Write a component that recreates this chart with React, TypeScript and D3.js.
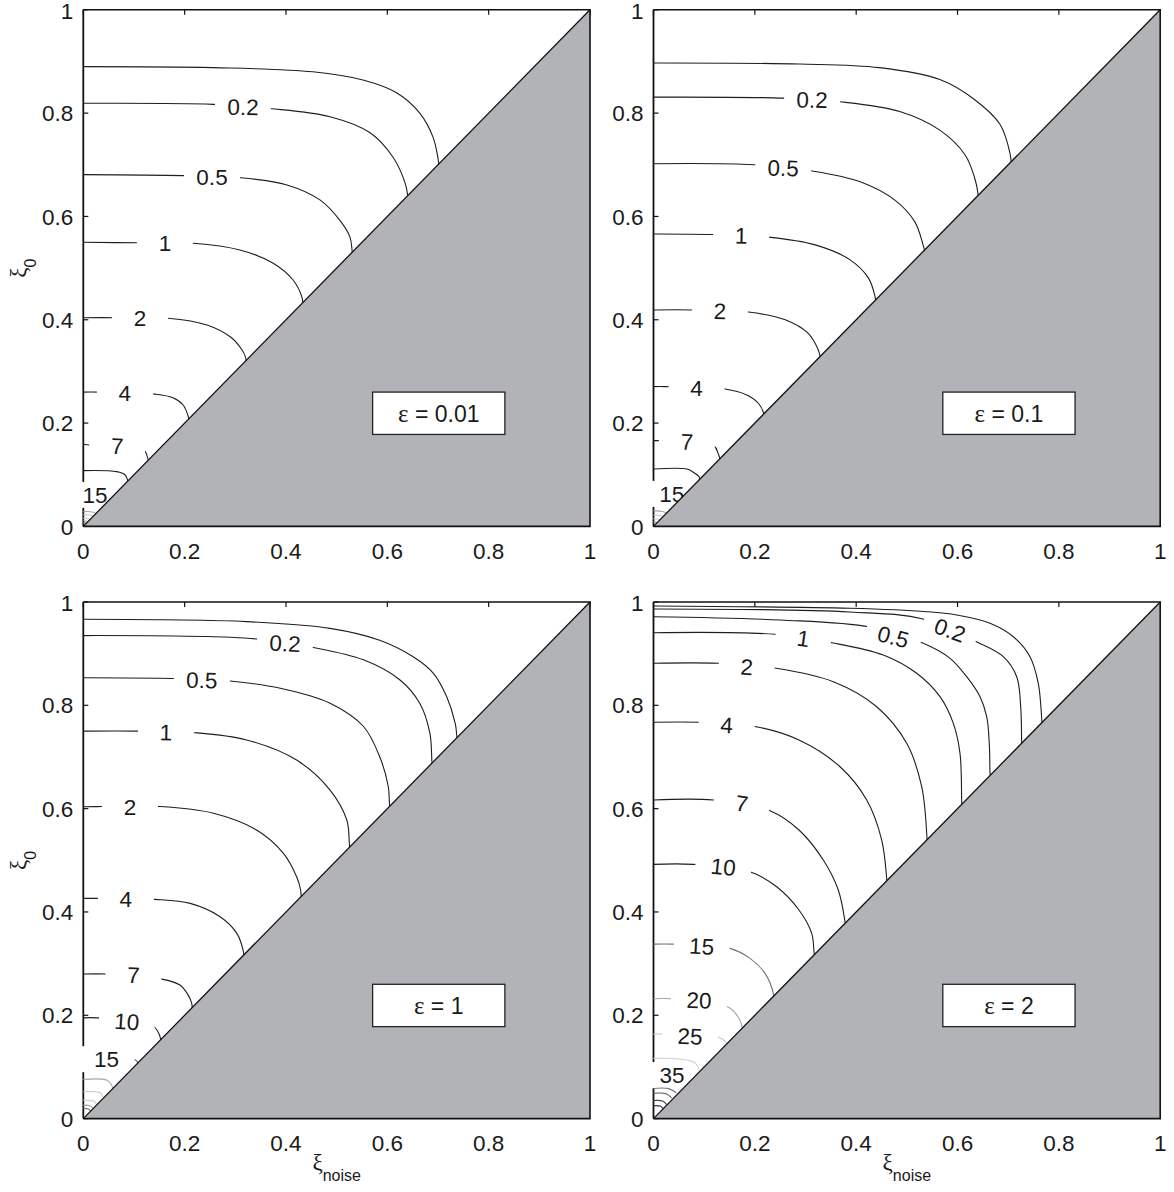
import { useEffect, useRef } from 'react';
import * as d3 from 'd3';

// tick values and their labels (both axes)
const ticks = [0, 0.2, 0.4, 0.6, 0.8, 1];
const tickText = ['0', '0.2', '0.4', '0.6', '0.8', '1'];
const epsilons = ['0.01', '0.1', '1', '2'];

// panel A : eps = 0.01  (contour points [xi_noise, xi_0])
const levelsA = [0.1, 0.2, 0.5, 1, 2, 4, 7, 10, 15, 20, 25, 30, 35, 40];
const linesA = [
  [[0, 0.890], [0.256, 0.888], [0.453, 0.880], [0.552, 0.864], [0.619, 0.839], [0.664, 0.800], [0.690, 0.754], [0.700, 0.713], [0.703, 0.69]],
  [[0, 0.819], [0.256, 0.817], [0.368, 0.809], [0.487, 0.793], [0.566, 0.762], [0.611, 0.715], [0.635, 0.665], [0.640, 0.642], [0.641, 0.63]],
  [[0, 0.681], [0.197, 0.679], [0.309, 0.675], [0.402, 0.661], [0.467, 0.632], [0.506, 0.593], [0.526, 0.561], [0.530, 0.539], [0.531, 0.525]],
  [[0, 0.550], [0.108, 0.549], [0.217, 0.548], [0.309, 0.535], [0.374, 0.510], [0.414, 0.477], [0.432, 0.442], [0.433, 0.43]],
  [[0, 0.404], [0.059, 0.404], [0.167, 0.403], [0.244, 0.390], [0.290, 0.367], [0.313, 0.342], [0.320, 0.328], [0.322, 0.31]],
  [[0, 0.260], [0.029, 0.260], [0.142, 0.256], [0.177, 0.249], [0.197, 0.235], [0.207, 0.213], [0.209, 0.20]],
  [[0, 0.159], [0.007, 0.158], [0.120, 0.147], [0.126, 0.136], [0.128, 0.129], [0.129, 0.12]],
  [[0, 0.108], [0.066, 0.106], [0.082, 0.100], [0.087, 0.091], [0.088, 0.08]],
  [[0, 0.062], [0.05, 0.061], [0.062, 0.055]],
  [[0, 0.0286], [0.018, 0.028], [0.026, 0.024]],
  [[0, 0.0223], [0.013, 0.022], [0.019, 0.019]],
  [[0, 0.016], [0.01, 0.015], [0.014, 0.013]],
  [[0, 0.011], [0.006, 0.010], [0.009, 0.009]],
  [[0, 0.007], [0.004, 0.0065], [0.006, 0.006]],
];
const labelsA = [
  { lv: 0.2, t: '0.2', x: 0.315, y: 0.812, r: 1 },
  { lv: 0.5, t: '0.5', x: 0.254, y: 0.677, r: 0 },
  { lv: 1, t: '1', x: 0.161, y: 0.548, r: 0 },
  { lv: 2, t: '2', x: 0.112, y: 0.403, r: 0 },
  { lv: 4, t: '4', x: 0.082, y: 0.258, r: 0 },
  { lv: 7, t: '7', x: 0.067, y: 0.156, r: 2 },
  { lv: 15, t: '15', x: 0.023, y: 0.061, r: 0 },
];

// panel B : eps = 0.1
const levelsB = [0.1, 0.2, 0.5, 1, 2, 4, 7, 10, 15, 20, 25, 30, 35];
const linesB = [
  [[0, 0.897], [0.288, 0.895], [0.446, 0.888], [0.565, 0.865], [0.634, 0.826], [0.684, 0.778], [0.704, 0.720], [0.706, 0.70]],
  [[0, 0.831], [0.257, 0.829], [0.368, 0.822], [0.486, 0.803], [0.565, 0.767], [0.615, 0.719], [0.634, 0.674], [0.640, 0.647], [0.641, 0.63]],
  [[0, 0.702], [0.199, 0.700], [0.313, 0.688], [0.408, 0.667], [0.477, 0.631], [0.516, 0.589], [0.532, 0.545], [0.537, 0.525]],
  [[0, 0.566], [0.117, 0.565], [0.226, 0.560], [0.319, 0.545], [0.388, 0.516], [0.424, 0.481], [0.437, 0.446], [0.439, 0.43]],
  [[0, 0.419], [0.076, 0.419], [0.187, 0.415], [0.260, 0.400], [0.305, 0.374], [0.325, 0.342], [0.329, 0.328], [0.331, 0.315]],
  [[0, 0.2706], [0.023, 0.2706], [0.141, 0.266], [0.184, 0.2545], [0.207, 0.2384], [0.217, 0.2202], [0.218, 0.21]],
  [[0, 0.166], [0.005, 0.166], [0.119, 0.156], [0.128, 0.140], [0.132, 0.128]],
  [[0, 0.111], [0.066, 0.111], [0.080, 0.104], [0.090, 0.096], [0.092, 0.085]],
  [[0, 0.063], [0.05, 0.062], [0.062, 0.056]],
  [[0, 0.030], [0.018, 0.029], [0.027, 0.025]],
  [[0, 0.022], [0.013, 0.021], [0.02, 0.018]],
  [[0, 0.015], [0.009, 0.014], [0.013, 0.012]],
  [[0, 0.009], [0.005, 0.008], [0.008, 0.007]],
];
const labelsB = [
  { lv: 0.2, t: '0.2', x: 0.313, y: 0.826, r: 1 },
  { lv: 0.5, t: '0.5', x: 0.256, y: 0.694, r: 2 },
  { lv: 1, t: '1', x: 0.173, y: 0.563, r: 1 },
  { lv: 2, t: '2', x: 0.131, y: 0.417, r: 1 },
  { lv: 4, t: '4', x: 0.085, y: 0.268, r: 0 },
  { lv: 7, t: '7', x: 0.066, y: 0.164, r: 2 },
  { lv: 15, t: '15', x: 0.036, y: 0.063, r: 0 },
];

// panel C : eps = 1
const levelsC = [0.1, 0.2, 0.5, 1, 2, 4, 7, 10, 15, 20, 25, 30, 35, 40];
const linesC = [
  [[0, 0.9665], [0.322, 0.962], [0.487, 0.949], [0.585, 0.926], [0.651, 0.894], [0.691, 0.862], [0.717, 0.817], [0.734, 0.765], [0.737, 0.7425], [0.738, 0.73]],
  [[0, 0.935], [0.342, 0.9285], [0.454, 0.912], [0.553, 0.888], [0.625, 0.849], [0.664, 0.804], [0.684, 0.746], [0.688, 0.691], [0.689, 0.68]],
  [[0, 0.8535], [0.178, 0.852], [0.290, 0.847], [0.389, 0.833], [0.487, 0.804], [0.553, 0.759], [0.585, 0.7005], [0.602, 0.6424], [0.604, 0.6134], [0.605, 0.6]],
  [[0, 0.750], [0.109, 0.750], [0.220, 0.747], [0.322, 0.733], [0.421, 0.694], [0.487, 0.636], [0.520, 0.578], [0.525, 0.533], [0.526, 0.52]],
  [[0, 0.6037], [0.036, 0.604], [0.151, 0.604], [0.257, 0.591], [0.342, 0.5586], [0.395, 0.5134], [0.421, 0.468], [0.429, 0.442], [0.43, 0.42]],
  [[0, 0.4263], [0.026, 0.4263], [0.141, 0.4244], [0.211, 0.4166], [0.270, 0.3907], [0.303, 0.3586], [0.316, 0.323], [0.317, 0.31]],
  [[0, 0.2798], [0.046, 0.2798], [0.1575, 0.2695], [0.1907, 0.2585], [0.207, 0.239], [0.214, 0.223], [0.215, 0.21]],
  [[0, 0.195], [0.028, 0.195], [0.138, 0.179], [0.151, 0.16], [0.153, 0.15]],
  [[0, 0.117], [0.09, 0.116], [0.105, 0.112], [0.11, 0.1]],
  [[0, 0.0759], [0.046, 0.0745], [0.056, 0.0649], [0.058, 0.055]],
  [[0, 0.052], [0.033, 0.050], [0.039, 0.042]],
  [[0, 0.0358], [0.023, 0.0326], [0.026, 0.026]],
  [[0, 0.026], [0.015, 0.024], [0.019, 0.019]],
  [[0, 0.0197], [0.011, 0.018], [0.014, 0.014]],
];
const labelsC = [
  { lv: 0.2, t: '0.2', x: 0.398, y: 0.920, r: 3 },
  { lv: 0.5, t: '0.5', x: 0.234, y: 0.849, r: 1 },
  { lv: 1, t: '1', x: 0.163, y: 0.748, r: 1 },
  { lv: 2, t: '2', x: 0.092, y: 0.6035, r: 0 },
  { lv: 4, t: '4', x: 0.084, y: 0.425, r: 0 },
  { lv: 7, t: '7', x: 0.099, y: 0.278, r: 2 },
  { lv: 10, t: '10', x: 0.086, y: 0.188, r: 4 },
  { lv: 15, t: '15', x: 0.046, y: 0.115, r: 0 },
];

// panel D : eps = 2
const levelsD = [0.1, 0.2, 0.5, 1, 2, 4, 7, 10, 15, 20, 25, 30, 35, 40, 45, 50, 60];
const linesD = [
  [[0, 0.9923], [0.3878, 0.9878], [0.5392, 0.9812], [0.5984, 0.9748], [0.6641, 0.9588], [0.7101, 0.9328], [0.7430, 0.8941], [0.7594, 0.8426], [0.7661, 0.7748], [0.767, 0.76]],
  [[0, 0.9865], [0.3878, 0.9807], [0.5319, 0.9671], [0.6373, 0.9231], [0.6903, 0.8941], [0.7168, 0.8554], [0.7247, 0.7973], [0.7265, 0.7328], [0.727, 0.72]],
  [[0, 0.9715], [0.2497, 0.9652], [0.4273, 0.9516], [0.5325, 0.9200], [0.5852, 0.8910], [0.6181, 0.8554], [0.6444, 0.8167], [0.6576, 0.7779], [0.6627, 0.7264], [0.6641, 0.6714], [0.665, 0.66]],
  [[0, 0.9406], [0.2398, 0.9375], [0.3517, 0.9212], [0.4535, 0.8974], [0.5194, 0.8620], [0.5654, 0.8167], [0.5917, 0.7651], [0.6049, 0.7071], [0.6083, 0.6134], [0.609, 0.60]],
  [[0, 0.8813], [0.1279, 0.8813], [0.2418, 0.8716], [0.3548, 0.8457], [0.4405, 0.7973], [0.4997, 0.7264], [0.5293, 0.6424], [0.5392, 0.5522], [0.54, 0.53]],
  [[0, 0.7671], [0.0884, 0.7671], [0.2023, 0.7586], [0.2871, 0.7328], [0.3681, 0.6811], [0.4208, 0.6167], [0.4504, 0.5392], [0.4602, 0.4651], [0.461, 0.45]],
  [[0, 0.6167], [0.1180, 0.6167], [0.2299, 0.5959], [0.2871, 0.5586], [0.3351, 0.5005], [0.3647, 0.4424], [0.3779, 0.3810], [0.379, 0.37]],
  [[0, 0.4922], [0.0785, 0.4922], [0.1904, 0.4778], [0.2431, 0.4488], [0.2871, 0.4037], [0.3122, 0.3586], [0.3168, 0.3229], [0.318, 0.31]],
  [[0, 0.3378], [0.0391, 0.3378], [0.1510, 0.3295], [0.1904, 0.3102], [0.2201, 0.2811], [0.2364, 0.2424], [0.237, 0.23]],
  [[0, 0.2319], [0.0365, 0.2319], [0.1470, 0.2159], [0.1668, 0.1971], [0.1741, 0.1810], [0.175, 0.17]],
  [[0, 0.1636], [0.0191, 0.1636], [0.1283, 0.158], [0.1441, 0.1462], [0.148, 0.135]],
  [[0, 0.1166], [0.0523, 0.1152], [0.0819, 0.1080], [0.090, 0.095]],
  [[0, 0.0823], [0.070, 0.081], [0.082, 0.075]],
  [[0, 0.0584], [0.030, 0.058], [0.045, 0.050]],
  [[0, 0.0490], [0.025, 0.048], [0.036, 0.040]],
  [[0, 0.035], [0.018, 0.034], [0.026, 0.027]],
  [[0, 0.025], [0.014, 0.024], [0.019, 0.019]],
];
const labelsD = [
  { lv: 0.2, t: '0.2', x: 0.5852, y: 0.9458, r: 20 },
  { lv: 0.5, t: '0.5', x: 0.4733, y: 0.9328, r: 15 },
  { lv: 1, t: '1', x: 0.2956, y: 0.9297, r: 8 },
  { lv: 2, t: '2', x: 0.1839, y: 0.8747, r: 4 },
  { lv: 4, t: '4', x: 0.1445, y: 0.7619, r: 3 },
  { lv: 7, t: '7', x: 0.1741, y: 0.6103, r: 8 },
  { lv: 10, t: '10', x: 0.1378, y: 0.4875, r: 6 },
  { lv: 15, t: '15', x: 0.0951, y: 0.3340, r: 3 },
  { lv: 20, t: '20', x: 0.0898, y: 0.2294, r: 2 },
  { lv: 25, t: '25', x: 0.0720, y: 0.1597, r: 2 },
  { lv: 35, t: '35', x: 0.0365, y: 0.0842, r: 0 },
];

const SANS = '"Liberation Sans", Arial, Helvetica, sans-serif';
const SERIF = '"Liberation Serif", "Times New Roman", serif';
const PW = 506.7;
const PH = 516.6;

// grey of each contour level (matlab-like colormap, high levels lighter)
const levelGrey = (lv) => {
  if (lv <= 10) return '#1e1e1e';
  const m = { 15: '#707070', 20: '#a6a6a6', 25: '#c6c6c6', 30: '#d0d0d0', 35: '#a0a0a0', 40: '#7a7a7a', 45: '#5a5a5a', 50: '#444', 60: '#333' };
  return m[lv] || '#333';
};

const panels = [
  { ox: 83.3, oy: 9.8, levels: levelsA, lines: linesA, labels: labelsA, eps: epsilons[0], yTitle: true, xTitle: false },
  { ox: 653.5, oy: 9.8, levels: levelsB, lines: linesB, labels: labelsB, eps: epsilons[1], yTitle: false, xTitle: false },
  { ox: 83.3, oy: 602, levels: levelsC, lines: linesC, labels: labelsC, eps: epsilons[2], yTitle: true, xTitle: true },
  { ox: 653.5, oy: 602, levels: levelsD, lines: linesD, labels: labelsD, eps: epsilons[3], yTitle: false, xTitle: true },
];

const App = () => {
  const svgRef = useRef(null);

  useEffect(() => {
    const svg = d3.select(svgRef.current);
    svg.selectAll('*').remove();
    const defs = svg.append('defs');

    panels.forEach((p, pi) => {
      const x = d3.scaleLinear().domain([0, 1]).range([p.ox, p.ox + PW]);
      const y = d3.scaleLinear().domain([0, 1]).range([p.oy + PH, p.oy]);
      const g = svg.append('g');

      const rectTf = (lab) => `translate(${x(lab.x)},${y(lab.y)}) rotate(${lab.r})`;
      const addMask = (id, labs) => {
        const m = defs.append('mask').attr('id', id)
          .attr('maskUnits', 'userSpaceOnUse')
          .attr('x', 0).attr('y', 0).attr('width', 1174).attr('height', 1192);
        m.append('rect').attr('width', 1174).attr('height', 1192).attr('fill', 'white');
        labs.forEach((lab) => {
          m.append('rect').attr('transform', rectTf(lab))
            .attr('x', -28).attr('y', -13).attr('width', 56).attr('height', 26).attr('fill', 'black');
        });
      };

      // left spine, broken where a label sits on it
      addMask(`sp${pi}`, p.labels);
      g.append('line')
        .attr('x1', p.ox).attr('x2', p.ox).attr('y1', p.oy).attr('y2', p.oy + PH)
        .attr('stroke', '#111').attr('stroke-width', 1.8)
        .attr('mask', `url(#sp${pi})`);

      // ticks on top and left, inward
      ticks.forEach((t) => {
        g.append('line').attr('x1', p.ox).attr('x2', p.ox + 5).attr('y1', y(t)).attr('y2', y(t))
          .attr('stroke', '#111').attr('stroke-width', 1.2);
        g.append('line').attr('x1', x(t)).attr('x2', x(t)).attr('y1', p.oy).attr('y2', p.oy + 5)
          .attr('stroke', '#111').attr('stroke-width', 1.2);
      });

      // contour lines
      const line = d3.line().x((d) => x(d[0])).y((d) => y(d[1])).curve(d3.curveCatmullRom.alpha(0.5));
      p.lines.forEach((pts, i) => {
        const lv = p.levels[i];
        const lab = p.labels.find((l) => l.lv === lv);
        let mid = null;
        if (lab) {
          mid = `m${pi}-${i}`;
          addMask(mid, [lab]);
        }
        g.append('path')
          .attr('d', line(pts))
          .attr('fill', 'none')
          .attr('stroke', levelGrey(lv))
          .attr('stroke-width', 1.1)
          .attr('mask', mid ? `url(#${mid})` : null);
      });

      // contour labels
      g.selectAll('.clab')
        .data(p.labels)
        .join('text')
        .attr('class', 'clab')
        .attr('transform', rectTf)
        .attr('text-anchor', 'middle')
        .attr('dy', '0.36em')
        .attr('font-family', SANS)
        .attr('font-size', 22.5)
        .attr('fill', '#1a1a1a')
        .text((d) => d.t);

      // infeasible region xi_noise > xi_0
      const tri = [[0, 0], [1, 0], [1, 1]];
      g.append('polygon')
        .attr('points', tri.map((d) => `${x(d[0])},${y(d[1])}`).join(' '))
        .attr('fill', '#b2b3b7');
      g.append('line')
        .attr('x1', x(0)).attr('y1', y(0)).attr('x2', x(1)).attr('y2', y(1))
        .attr('stroke', '#111').attr('stroke-width', 1.3);

      // other spines
      g.append('path')
        .attr('d', `M${p.ox},${p.oy}H${p.ox + PW}V${p.oy + PH}H${p.ox}`)
        .attr('fill', 'none').attr('stroke', '#111').attr('stroke-width', 1.6);

      // tick labels
      ticks.forEach((t, i) => {
        g.append('text').attr('x', p.ox - 10).attr('y', y(t) + (t === 1 ? 1 : 0)).attr('dy', '0.36em')
          .attr('text-anchor', 'end').attr('font-family', SANS).attr('font-size', 22.5)
          .attr('fill', '#1a1a1a').text(tickText[i]);
        g.append('text').attr('x', x(t)).attr('y', p.oy + PH + 24).attr('dy', '0.36em')
          .attr('text-anchor', 'middle').attr('font-family', SANS).attr('font-size', 22.5)
          .attr('fill', '#1a1a1a').text(tickText[i]);
      });

      // legend box
      const bx0 = x(0.571), bx1 = x(0.832), by0 = y(0.26), by1 = y(0.178);
      g.append('rect').attr('x', bx0).attr('y', by0).attr('width', bx1 - bx0).attr('height', by1 - by0)
        .attr('fill', '#fff').attr('stroke', '#222').attr('stroke-width', 1.3);
      const lt = g.append('text').attr('x', (bx0 + bx1) / 2).attr('y', (by0 + by1) / 2).attr('dy', '0.36em')
        .attr('text-anchor', 'middle').attr('font-size', 23).attr('fill', '#1a1a1a');
      lt.append('tspan').attr('font-family', SERIF).attr('font-size', 25).text('ε');
      lt.append('tspan').attr('font-family', SANS).text(` = ${p.eps}`);

      // axis titles
      if (p.yTitle) {
        const yt = g.append('text')
          .attr('transform', `translate(26,${p.oy + PH / 2}) rotate(-90)`)
          .attr('text-anchor', 'middle').attr('fill', '#1a1a1a');
        yt.append('tspan').attr('font-family', SERIF).attr('font-size', 23).text('ξ');
        yt.append('tspan').attr('font-family', SANS).attr('font-size', 16).attr('dy', 10).text('0');
      }
      if (p.xTitle) {
        const xt = g.append('text')
          .attr('x', p.ox + PW / 2).attr('y', p.oy + PH + 51)
          .attr('text-anchor', 'middle').attr('fill', '#1a1a1a');
        xt.append('tspan').attr('font-family', SERIF).attr('font-size', 23).text('ξ');
        xt.append('tspan').attr('font-family', SANS).attr('font-size', 16).attr('dy', 11).text('noise');
      }
    });
  }, []);

  return (
    <svg
      ref={svgRef}
      width={1174}
      height={1192}
      style={{ position: 'absolute', left: 0, top: 0, background: '#fff' }}
    />
  );
};

export default App;
